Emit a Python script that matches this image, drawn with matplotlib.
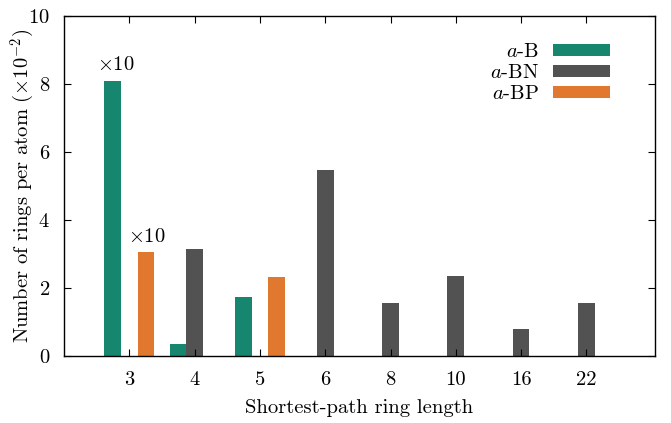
import matplotlib
matplotlib.use("Agg")
import matplotlib.pyplot as plt
import numpy as np

plt.rcParams['font.family'] = ['cmr10', 'DejaVu Serif']
plt.rcParams['mathtext.fontset'] = 'cm'
plt.rcParams['axes.formatter.use_mathtext'] = True
plt.rcParams['font.size'] = 14.8

# ring lengths (categories) and rings per atom (x 10^-2)
rings = ['3', '4', '5', '6', '8', '10', '16', '22']
a_B = [8.1, 0.35, 1.73, 0, 0, 0, 0, 0]
a_BN = [0, 3.15, 0, 5.46, 1.56, 2.35, 0.79, 1.56]
a_BP = [3.05, 0, 2.32, 0, 0, 0, 0, 0]
series_names = ['$a$-B', '$a$-BN', '$a$-BP']
colors = ['#17866e', '#525252', '#e17830']

fig = plt.figure(figsize=(6.71, 4.23), dpi=100)
ax = fig.add_axes([64 / 671, 67 / 423, 591 / 671, 340 / 423])

x = np.arange(len(rings))
w = 0.255
ax.bar(x - w, a_B, w, color=colors[0], label=series_names[0])
ax.bar(x, a_BN, w, color=colors[1], label=series_names[1])
ax.bar(x + w, a_BP, w, color=colors[2], label=series_names[2])

# scale notes for the two bars drawn x10
ax.text(x[0] - w + 0.05, a_B[0] + 0.2, r'$\times10$', ha='center', va='bottom')
ax.text(x[0] + w + 0.02, a_BP[0] + 0.2, r'$\times10$', ha='center', va='bottom')

ax.set_xlim(-1, 8.05)
ax.set_ylim(0, 10)
ax.set_xticks(x)
ax.set_xticklabels(rings)
ax.set_yticks(np.arange(0, 11, 2))
ax.tick_params(direction='in', top=True, right=True, length=5, width=0.8)
ax.tick_params(axis='x', pad=11)
ax.tick_params(axis='y', pad=10)
ax.set_xlabel('Shortest-path ring length', labelpad=7)
ax.set_ylabel(r'Number of rings per atom ($\times10^{-2}$)')
ax.yaxis.set_label_coords(-0.045, 0.5)
for s in ax.spines.values():
    s.set_linewidth(1.0)

ax.legend(loc='upper right', bbox_to_anchor=(0.955, 0.975), frameon=False,
          markerfirst=False, handlelength=2.75, handleheight=0.5,
          labelspacing=0.15, handletextpad=0.7)

fig.savefig('out.png', dpi=100)
